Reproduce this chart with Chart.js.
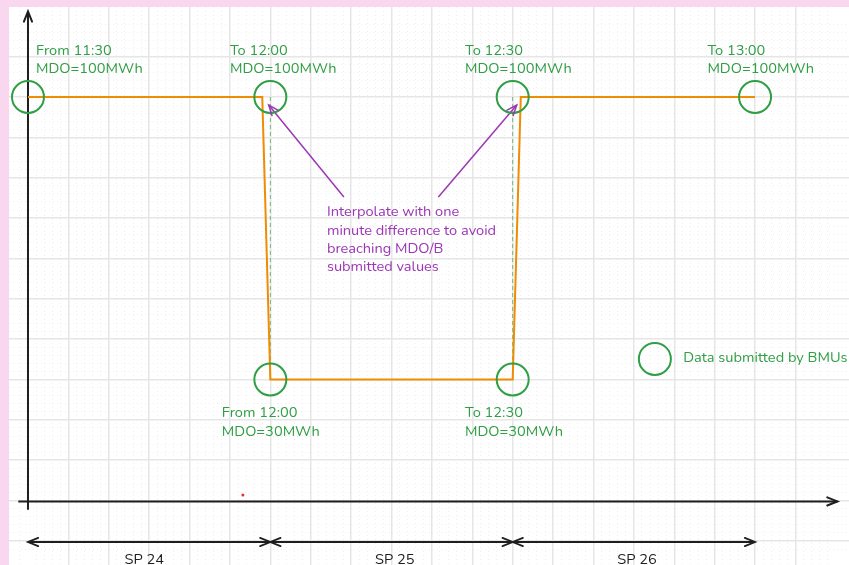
<!DOCTYPE html>
<html>
<head>
<meta charset="utf-8">
<script src="https://cdn.jsdelivr.net/npm/chart.js@4"></script>
<style>
  html, body { margin: 0; padding: 0; background: #f9d7ef; }
  body { width: 849px; height: 565px; overflow: hidden; position: relative; }
  #wrap { position: absolute; left: 9px; top: 7px; width: 840px; height: 558px; background: #fff; }
</style>
</head>
<body>
<div id="wrap"><canvas id="chart"></canvas></div>
<script>
// x = minutes of the day (690 = 11:30), y = MDO in MWh
const submittedTimes = [690, 720, 750, 780, 720, 750];
const submittedMdo = [100, 100, 100, 100, 30, 30];

// interpolated profile, one minute off each step
const profileTimes = [690, 719, 720, 750, 751, 780];
const profileMdo = [100, 100, 30, 30, 100, 100];

const guideTimes = [720, 750];
const guideFrom = 100;
const guideTo = 30;

const periodBounds = [690, 720, 750, 780];
const periodLabels = ['SP 24', 'SP 25', 'SP 26'];

const pointLabels = [
  ['From 11:30', 'MDO=100MWh'],
  ['To 12:00', 'MDO=100MWh'],
  ['To 12:30', 'MDO=100MWh'],
  ['To 13:00', 'MDO=100MWh'],
  ['From 12:00', 'MDO=30MWh'],
  ['To 12:30', 'MDO=30MWh']
];
const noteLines = ['Interpolate with one', 'minute difference to avoid', 'breaching MDO/B', 'submitted values'];
const legendText = 'Data submitted by BMUs';

// where things sit, in chart units
const X_MIN = 687.65, X_MAX = 791.63, Y_MIN = -15.96, Y_MAX = 122.3;
const labelAnchors = [[691.0, 111.4], [715.0, 111.4], [744.1, 111.4], [774.1, 111.4], [714.0, 21.5], [744.1, 21.5]];
const noteAnchor = [727.0, 71.3];
const noteArrows = [[[729.1, 75.2], [719.8, 98.0]], [[740.8, 75.2], [750.5, 98.0]]];
const legendAnchor = [767.6, 35.1];
const periodY = -10.26;
const periodLabelX = [704.4, 735.4, 765.4];
const periodLabelY = -14.8;
const strayDot = [716.6, 1.4];

const GREEN = '#2f9e44', ORANGE = '#f08c00', PURPLE = '#9c36b5', INK = '#1e1e1e';
const FONT = '"Nunito", "Open Sans", sans-serif';

const pts = (xs, ys) => xs.map((x, i) => ({ x: x, y: ys[i] }));

const datasets = [
  {
    data: pts(submittedTimes, submittedMdo),
    showLine: false, pointRadius: 16, pointBorderWidth: 2,
    borderColor: GREEN, backgroundColor: 'transparent', pointBackgroundColor: 'transparent'
  },
  {
    data: [{ x: legendAnchor[0], y: legendAnchor[1] }],
    showLine: false, pointRadius: 16, pointBorderWidth: 2,
    borderColor: GREEN, backgroundColor: 'transparent', pointBackgroundColor: 'transparent'
  },
  {
    data: pts(profileTimes, profileMdo),
    showLine: true, borderColor: ORANGE, borderWidth: 2, pointRadius: 0
  },
  {
    data: [{ x: strayDot[0], y: strayDot[1] }],
    showLine: false, pointRadius: 1.5, pointBorderWidth: 0, backgroundColor: '#e03131'
  },
  // axes
  {
    data: [{ x: 690, y: -2.3 }, { x: 690, y: 121.2 }],
    showLine: true, borderColor: INK, borderWidth: 2, pointRadius: 0, arrowEnd: true
  },
  {
    data: [{ x: 688.8, y: -0.2 }, { x: 790.2, y: -0.2 }],
    showLine: true, borderColor: INK, borderWidth: 2, pointRadius: 0, arrowEnd: true
  }
];

guideTimes.forEach(t => {
  datasets.push({
    data: [{ x: t, y: guideFrom }, { x: t, y: guideTo }],
    showLine: true, borderColor: 'rgba(47,158,68,0.65)', borderWidth: 1, borderDash: [4, 3], pointRadius: 0
  });
});

noteArrows.forEach(a => {
  datasets.push({
    data: [{ x: a[0][0], y: a[0][1] }, { x: a[1][0], y: a[1][1] }],
    showLine: true, borderColor: PURPLE, borderWidth: 1.5, pointRadius: 0, arrowEnd: true
  });
});

for (let i = 0; i < periodBounds.length - 1; i++) {
  datasets.push({
    data: [{ x: periodBounds[i], y: periodY }, { x: periodBounds[i + 1], y: periodY }],
    showLine: true, borderColor: INK, borderWidth: 1.8, pointRadius: 0, arrowStart: true, arrowEnd: true
  });
}

function drawHead(ctx, tip, from, color, width) {
  const ang = Math.atan2(tip.y - from.y, tip.x - from.x);
  const len = 11, spread = 0.38;
  ctx.save();
  ctx.strokeStyle = color;
  ctx.lineWidth = width;
  ctx.lineCap = 'round';
  ctx.beginPath();
  ctx.moveTo(tip.x - len * Math.cos(ang - spread), tip.y - len * Math.sin(ang - spread));
  ctx.lineTo(tip.x, tip.y);
  ctx.lineTo(tip.x - len * Math.cos(ang + spread), tip.y - len * Math.sin(ang + spread));
  ctx.stroke();
  ctx.restore();
}

const arrowHeads = {
  id: 'arrowHeads',
  afterDatasetsDraw(chart) {
    const ctx = chart.ctx;
    chart.data.datasets.forEach((ds, i) => {
      if (!ds.arrowStart && !ds.arrowEnd) return;
      const p = chart.getDatasetMeta(i).data;
      const a = p[0], b = p[p.length - 1];
      if (ds.arrowEnd) drawHead(ctx, b, a, ds.borderColor, ds.borderWidth);
      if (ds.arrowStart) drawHead(ctx, a, b, ds.borderColor, ds.borderWidth);
    });
  }
};

const textLayer = {
  id: 'textLayer',
  afterDatasetsDraw(chart) {
    const ctx = chart.ctx;
    const sx = chart.scales.x, sy = chart.scales.y;
    const lh = 18.3;
    const block = (lines, anchor, color, align) => {
      ctx.fillStyle = color;
      ctx.textAlign = align || 'left';
      lines.forEach((t, j) => {
        ctx.fillText(t, sx.getPixelForValue(anchor[0]), sy.getPixelForValue(anchor[1]) + j * lh);
      });
    };
    ctx.save();
    ctx.font = '14.6px ' + FONT;
    ctx.textBaseline = 'middle';
    pointLabels.forEach((lines, i) => block(lines, labelAnchors[i], GREEN));
    block(noteLines, noteAnchor, PURPLE);
    block([legendText], [legendAnchor[0] + 3.5, legendAnchor[1] + 0.2], GREEN);
    periodLabels.forEach((t, i) => block([t], [periodLabelX[i], periodLabelY], INK, 'center'));
    ctx.restore();
  }
};

const MAJOR = '#e6e6e6', MINOR = '#efefef';
const gridAxis = (min, max, step, major, isMajor) => ({
  type: 'linear', min: min, max: max,
  ticks: { display: false, stepSize: step, maxTicksLimit: 1000 },
  grid: {
    drawTicks: false,
    lineWidth: isMajor ? 1.5 : 1,
    color: c => {
      const v = c.tick ? c.tick.value : NaN;
      if (!Number.isInteger(v)) return 'transparent';
      if (isMajor) return v % major === 0 ? MAJOR : 'transparent';
      return v % major !== 0 ? MINOR : 'transparent';
    }
  },
  border: { display: false, dash: isMajor ? [] : [1, 3] }
});

new Chart(document.getElementById('chart'), {
  type: 'scatter',
  data: { datasets: datasets },
  options: {
    responsive: true,
    maintainAspectRatio: false,
    animation: false,
    events: [],
    layout: { padding: 0, autoPadding: false },
    plugins: { legend: { display: false }, tooltip: { enabled: false } },
    scales: {
      xMinor: Object.assign(gridAxis(X_MIN, X_MAX, 1, 5, false), { position: 'bottom' }),
      yMinor: Object.assign(gridAxis(Y_MIN, Y_MAX, 2, 10, false), { position: 'left' }),
      x: Object.assign(gridAxis(X_MIN, X_MAX, 5, 5, true), { position: 'bottom' }),
      y: Object.assign(gridAxis(Y_MIN, Y_MAX, 10, 10, true), { position: 'left' })
    }
  },
  plugins: [arrowHeads, textLayer]
});
</script>
</body>
</html>
